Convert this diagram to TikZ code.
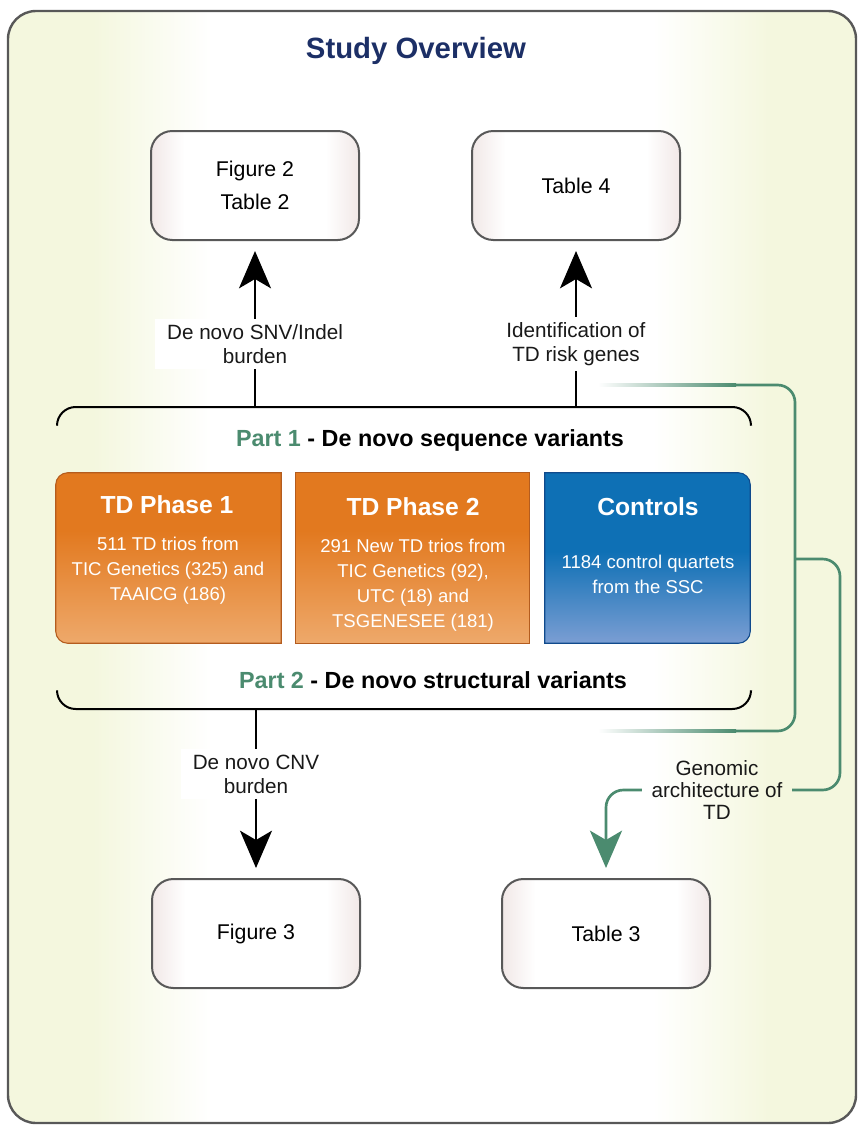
\documentclass[tikz,border=0pt]{standalone}
\usepackage{fontspec}
\setmainfont{Liberation Sans}
\usetikzlibrary{arrows.meta, positioning, calc}
\definecolor{TitleNavy}{RGB}{28,47,102}
\definecolor{PartGreen}{RGB}{75,139,111}
\definecolor{BgYellow}{RGB}{244,247,222}
\definecolor{BoxPink}{RGB}{241,232,231}
\definecolor{EdgeGray}{RGB}{88,88,88}
\definecolor{OrangeTop}{RGB}{226,121,31}
\definecolor{OrangeBot}{RGB}{238,169,107}
\definecolor{OrangeEdge}{RGB}{180,92,30}
\definecolor{BlueTop}{RGB}{14,112,181}
\definecolor{BlueBot}{RGB}{123,158,211}
\definecolor{BlueEdge}{RGB}{16,74,140}
\pgfdeclarehorizontalshading{outerbg}{100bp}{color(0bp)=(BgYellow); color(30bp)=(BgYellow);
    color(37bp)=(white); color(63bp)=(white); color(70bp)=(BgYellow); color(100bp)=(BgYellow)}
\pgfdeclarehorizontalshading{cardbg}{100bp}{color(0bp)=(BoxPink); color(25bp)=(BoxPink);
    color(33bp)=(white); color(67bp)=(white); color(75bp)=(BoxPink); color(100bp)=(BoxPink)}
\pgfdeclareverticalshading{orangebg}{100bp}{color(0bp)=(OrangeBot); color(25bp)=(OrangeBot);
    color(58bp)=(OrangeTop); color(100bp)=(OrangeTop)}
\pgfdeclareverticalshading{bluebg}{100bp}{color(0bp)=(BlueBot); color(25bp)=(BlueBot);
    color(52bp)=(BlueTop); color(100bp)=(BlueTop)}

\begin{document}
\begin{tikzpicture}[x=0.75pt, y=-0.75pt, font=\fontsize{15.5}{18}\selectfont]
    \tikzset{
        studyframe/.style={draw=EdgeGray, line width=1.8pt, rounded corners=21pt,
            shade, shading=outerbg},
        resultbox/.style={rectangle, rounded corners=16pt, draw=EdgeGray,
            line width=1.5pt, shade, shading=cardbg, minimum width=156pt,
            minimum height=81.75pt, align=center, font=\fontsize{16}{25}\selectfont},
        steplabel/.style={fill=white, align=center, inner xsep=9pt, inner ysep=4pt,
            text=black!90},
        cohortslot/.style={rectangle, minimum height=127.5pt, inner sep=0pt},
        cohorttitle/.style={text=white, font=\fontsize{18.5}{22}\selectfont\bfseries},
        cohorttext/.style={text=white, align=center,
            font=\fontsize{13.9}{18.75}\selectfont},
        parttitle/.style={font=\fontsize{17.5}{21}\selectfont\bfseries},
        bracket/.style={line width=1.5pt, rounded corners=14pt},
        flow/.style={line width=1.5pt, -{Stealth[length=28pt, width=24pt, inset=7pt]},
            shorten >=7.5pt},
        linkline/.style={draw=PartGreen, line width=2pt, rounded corners=13pt},
        linkflow/.style={linkline, -{Stealth[length=28pt, width=24pt, inset=7pt]},
            shorten >=7.5pt}
    }
    \useasboundingbox (0,0) rectangle (859,1125);
    \path[studyframe] (8,11) rectangle (856,1123);
    \node[font=\fontsize{22}{26}\selectfont\bfseries, text=TitleNavy] (title) at (416,51)
        {Study Overview};

    % result boxes
    \node[resultbox] (fig2) at (255,185.5) {Figure 2\\Table 2};
    \node[resultbox] (tab4) at (576,185.5) {Table 4};
    \node[resultbox] (fig3) at (256,933.5) {Figure 3};
    \node[resultbox] (tab3) at (606,933.5) {Table 3};

    % the two parts
    \draw[bracket] (57,425) -- (57,407) -- (751,407) -- (751,425);
    \draw[bracket] (57,691) -- (57,709) -- (751,709) -- (751,691);
    \coordinate (snvfoot) at (255,407);
    \coordinate (riskfoot) at (576,407);
    \coordinate (cnvfoot) at (256,709);
    \node[parttitle] (part1) at (430,440)
        {\textcolor{PartGreen}{Part 1} - De novo sequence variants};
    \node[parttitle] (part2) at (433,680)
        {\textcolor{PartGreen}{Part 2} - De novo structural variants};

    % cohorts
    \node[cohortslot, minimum width=168.75pt] (ph1) at (168.5,558) {};
    \node[cohortslot, minimum width=174.75pt] (ph2) at (412.5,558) {};
    \node[cohortslot, minimum width=153.75pt] (ctl) at (647.5,558) {};
    \path[shade, shading=orangebg, draw=OrangeEdge, line width=0.8pt]
        (ph1.north) [rounded corners=9pt] -- (ph1.north west) -- (ph1.south west)
        -- (ph1.south) [sharp corners] -- (ph1.south east) -- (ph1.north east) -- cycle;
    \path[shade, shading=orangebg, draw=OrangeEdge, line width=0.8pt]
        (ph2.north west) rectangle (ph2.south east);
    \path[shade, shading=bluebg, draw=BlueEdge, line width=0.8pt]
        (ctl.north) -- (ctl.north west) -- (ctl.south west) -- (ctl.south)
        [rounded corners=9pt] -- (ctl.south east) -- (ctl.north east) -- cycle;
    \node[cohorttitle] (ph1t) at (167,505) {TD Phase 1};
    \node[cohorttext] (ph1b) at (168,571)
        {511 TD trios from\\TIC Genetics (325) and\\TAAICG (186)};
    \node[cohorttitle] (ph2t) at (413,507) {TD Phase 2};
    \node[cohorttext] (ph2b) at (413,585)
        {291 New TD trios from\\TIC Genetics (92),\\UTC (18) and\\TSGENESEE (181)};
    \node[cohorttitle] (ctlt) at (648,507) {Controls};
    \node[cohorttext] (ctlb) at (648,574) {1184 control quartets\\from the SSC};

    % analyses
    \node[steplabel] (snvlbl) at (255,344) {De novo SNV/Indel\\burden};
    \node[steplabel] (risklbl) at (576,344) {Identification of\\TD risk genes};
    \node[steplabel] (cnvlbl) at (256,774) {De novo CNV\\burden};
    \draw[line width=1.5pt] (snvfoot) -- (snvlbl);
    \draw[flow] (snvlbl) -- (fig2);
    \draw[line width=1.5pt] (riskfoot) -- (risklbl);
    \draw[flow] (risklbl) -- (tab4);
    \draw[line width=1.5pt] (cnvfoot) -- (cnvlbl);
    \draw[flow] (cnvlbl) -- (fig3);

    % genomic architecture link
    \node[align=center, inner xsep=7pt, text=black!90,
        font=\fontsize{15.5}{16.2}\selectfont] (genlbl) at (717,790)
        {Genomic\\architecture of\\TD};
    \coordinate (gTopA) at (735,385);
    \coordinate (gTopB) at (795,385);
    \coordinate (gBotB) at (795,731);
    \coordinate (gBotA) at (735,731);
    \coordinate (gSplit) at (795,559);
    \shade[left color=white, right color=PartGreen] (598,383.7) rectangle (736,386.3);
    \shade[left color=white, right color=PartGreen] (598,729.7) rectangle (736,732.3);
    \draw[linkline] (gTopA) -- (gTopB) -- (gBotB) -- (gBotA);
    \draw[linkline] (gSplit) -- (840,559) -- (840,790) -- (genlbl.east);
    \draw[linkflow] (genlbl.west) -- (606,790) -- (tab3.north);
\end{tikzpicture}
\end{document}
